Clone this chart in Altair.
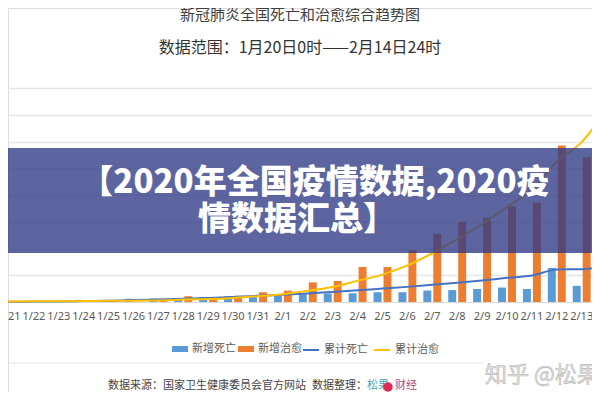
import altair as alt
import pandas as pd

# ---- data ----
dates = ["1/20", "1/21", "1/22", "1/23", "1/24", "1/25", "1/26", "1/27", "1/28", "1/29",
         "1/30", "1/31", "2/1", "2/2", "2/3", "2/4", "2/5", "2/6", "2/7", "2/8",
         "2/9", "2/10", "2/11", "2/12", "2/13", "2/14"]
new_deaths = [3, 3, 8, 8, 16, 15, 24, 26, 26, 38, 43, 46, 45, 57, 64, 65, 73, 73, 86, 89,
              97, 108, 97, 254, 121, 143]
new_cures = [0, 0, 3, 6, 4, 11, 2, 9, 43, 21, 47, 72, 85, 147, 157, 262, 261, 387, 510, 600,
             632, 716, 744, 1171, 1081, 1373]
cum_deaths = [6, 9, 17, 25, 41, 56, 80, 106, 132, 170, 213, 259, 304, 361, 425, 490, 563, 636,
              722, 811, 908, 1016, 1113, 1367, 1380, 1523]
cum_cures = [25, 25, 28, 34, 38, 49, 51, 60, 103, 124, 171, 243, 328, 475, 632, 892, 1153, 1540,
             2050, 2649, 3281, 3996, 4740, 5911, 6723, 8096]
bar_series = ["新增死亡", "新增治愈"]
line_series = ["累计死亡", "累计治愈"]
grid_values = [200, 400, 600, 800, 1000, 1200, 1400, 1600]

title_text = ["新冠肺炎全国死亡和治愈综合趋势图"]
subtitle_text = ["数据范围：1月20日0时——2月14日24时"]
banner_line1 = ["【2020年全国疫情数据,2020疫"]
banner_line2 = ["情数据汇总】"]
source_text = ["数据来源：国家卫生健康委员会官方网站"]
arrange_text = ["数据整理："]
logo_left = ["松果"]
logo_right = ["财经"]
watermark_text = ["知乎 @松果财经"]

n = len(dates)
bar_df = pd.DataFrame({
    "date": dates * 2,
    "series": [bar_series[0]] * n + [bar_series[1]] * n,
    "value": new_deaths + new_cures,
})
line_df = pd.DataFrame({
    "date": dates * 2,
    "series": [line_series[0]] * n + [line_series[1]] * n,
    "value": cum_deaths + cum_cures,
})

CJK = "Noto Sans CJK SC"

x_enc = alt.X(
    "date:N", sort=dates,
    scale=alt.Scale(domain=dates, range=[-36.35, 611.05], paddingInner=0.2, paddingOuter=0.1),
    axis=alt.Axis(title=None, labelAngle=0, offset=-90, ticks=False, domainColor="#d9d9d9",
                  labelColor="#595959", labelFont="Noto Sans", labelFontSize=11,
                  labelPadding=8, labelOverlap=False, grid=False),
)

bars = alt.Chart(bar_df).mark_bar().encode(
    x=x_enc,
    xOffset=alt.XOffset("series:N", sort=bar_series,
                        scale=alt.Scale(domain=bar_series, paddingInner=0.2, paddingOuter=0.1)),
    y=alt.Y("value:Q", scale=alt.Scale(domain=[0, 1600], range=[294, 80], nice=False, zero=True),
            axis=alt.Axis(values=grid_values, grid=True, labels=False, ticks=False, domain=False,
                          title=None, gridColor="#e6e6e6", gridWidth=1.3)),
    color=alt.Color("series:N", sort=bar_series,
                    scale=alt.Scale(domain=bar_series, range=["#5B9BD5", "#ED7D31"]),
                    legend=alt.Legend(orient="none", legendX=164, legendY=333, direction="horizontal",
                                      title=None, symbolType="M-1,-0.375H1V0.375H-1Z", symbolSize=256,
                                      symbolStrokeWidth=0, labelFont=CJK, labelFontSize=11,
                                      labelColor="#595959", labelOffset=4, columnPadding=2)),
)

lines = alt.Chart(line_df).mark_line(strokeWidth=2, interpolate="monotone").encode(
    x=x_enc,
    y=alt.Y("value:Q", scale=alt.Scale(domain=[0, 9000], range=[294, 80], nice=False, zero=True),
            axis=None),
    stroke=alt.Stroke("series:N", sort=line_series,
                      scale=alt.Scale(domain=line_series, range=["#4472C4", "#FFC000"]),
                      legend=alt.Legend(orient="none", legendX=294, legendY=333, direction="horizontal",
                                        title=None, symbolType="stroke", symbolSize=256,
                                        symbolStrokeWidth=2, labelFont=CJK, labelFontSize=11,
                                        labelColor="#595959", labelOffset=4, columnPadding=2)),
)


def text_layer(values, x, y, size, color, align="center", weight="normal", **kw):
    return alt.Chart(pd.DataFrame({"t": values})).mark_text(
        align=align, baseline="middle", font=CJK, fontSize=size, color=color,
        fontWeight=weight, **kw
    ).encode(text="t:N", x=alt.value(x), y=alt.value(y))


one = pd.DataFrame({"k": [0]})
banner = alt.Chart(one).mark_rect(color="#2f3a86", opacity=0.78).encode(
    x=alt.value(0), x2=alt.value(584), y=alt.value(140), y2=alt.value(245))

separator = alt.Chart(one).mark_rule(color="#e3e3e3", strokeWidth=1).encode(
    x=alt.value(0), x2=alt.value(475), y=alt.value(355))

logo_dot = alt.Chart(one).mark_point(filled=True, shape="circle", size=90, color="#e0284e",
                                     opacity=1).encode(x=alt.value(380), y=alt.value(379))

chart = alt.layer(
    bars,
    lines,
    banner,
    text_layer(banner_line1, 307, 175, 33, "white", weight=900),
    text_layer(banner_line2, 289, 212, 33, "white", weight=900),
    text_layer(title_text, 292, 7, 15, "#404040"),
    text_layer(subtitle_text, 292, 40, 16, "#333333"),
    separator,
    text_layer(source_text, 100, 378, 11, "#444444", align="left"),
    text_layer(arrange_text, 304, 378, 11, "#444444", align="left"),
    text_layer(logo_left, 359, 378, 11, "#4aa3b5", align="left"),
    logo_dot,
    text_layer(logo_right, 387, 378, 11, "#b0487a", align="left"),
    text_layer(watermark_text, 477, 367, 22, "#e2e2e2", align="left", stroke="#b8b8b8",
               strokeWidth=0.6),
).resolve_scale(y="independent").properties(
    width=584, height=384, autosize=alt.AutoSizeParams(type="none"), padding=0,
).configure_view(strokeWidth=0).configure(background="white")

chart.save("out.html", embed_options={"renderer": "svg", "actions": False})
